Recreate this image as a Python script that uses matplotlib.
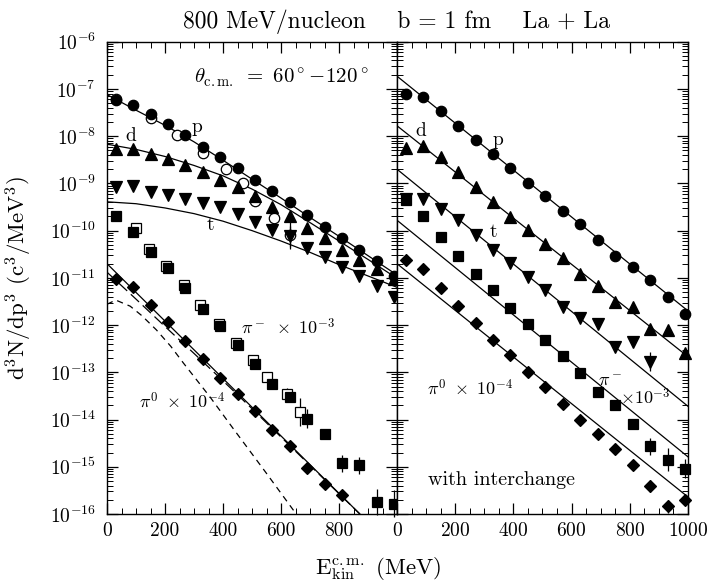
import numpy as np
import matplotlib
matplotlib.use("Agg")
import matplotlib.pyplot as plt
from matplotlib.ticker import LogLocator, MultipleLocator, NullFormatter

plt.rcParams['font.family'] = 'cmr10'
plt.rcParams['mathtext.fontset'] = 'cm'
plt.rcParams['axes.unicode_minus'] = False
plt.rcParams['axes.formatter.use_mathtext'] = True

# energies of the measured points (MeV)
E_pts = [30, 90, 150, 210, 270, 330, 390, 450, 510, 570, 630, 690, 750, 810, 870, 930, 990]

# ---- left panel: data (log10 of d3N/dp3) ----
p_left = [-7.23, -7.35, -7.53, -7.75, -7.98, -8.22, -8.44, -8.68, -8.93, -9.17, -9.40,
          -9.67, -9.93, -10.15, -10.41, -10.65, -10.96]
p_open_E = [30, 150, 240, 330, 410, 470, 510, 575, 630]
p_open = [-7.22, -7.62, -7.98, -8.35, -8.70, -8.99, -9.37, -9.73, -10.10]
p_open_err = [0, 0, 0, 0, 0, 0, 0, 0, 0.28]
d_left = [-8.28, -8.28, -8.38, -8.49, -8.61, -8.75, -8.92, -9.08, -9.26, -9.50, -9.70,
          -9.94, -10.16, -10.41, -10.62, -10.81, -11.03]
t_left = [-9.07, -9.06, -9.18, -9.25, -9.32, -9.41, -9.51, -9.64, -9.81, -9.98, -10.12,
          -10.37, -10.55, -10.78, -10.96, -11.18, -11.40]
t_left_err = [0] * 10 + [0.22] + [0] * 6
pim_left = [-9.69, -10.03, -10.45, -10.80, -11.22, -11.66, -12.02, -12.43, -12.82, -13.24,
            -13.53, -13.98, -14.30, -14.93, -14.97, -15.75, -15.78]
pim_left_err = [0] * 11 + [0.2, 0, 0.18, 0.18, 0.28, 0.28]
pim_open_E = [100, 145, 205, 265, 320, 385, 445, 505, 550, 620, 665]
pim_open = [-9.95, -10.38, -10.75, -11.15, -11.58, -11.97, -12.38, -12.73, -13.10, -13.45, -13.84]
pim_open_err = [0, 0, 0, 0, 0, 0, 0, 0, 0, 0.12, 0.3]
pi0_E_left = E_pts[:14]
pi0_left = [-11.02, -11.20, -11.58, -11.94, -12.33, -12.71, -13.11, -13.46, -13.81, -14.22,
            -14.57, -15.03, -15.37, -15.60]

# left panel: model curves
curve_E = [0, 100, 200, 300, 400, 500, 600, 700, 800, 900, 1000]
p_curve_l = [-7.12, -7.45, -7.77, -8.12, -8.51, -8.91, -9.31, -9.72, -10.12, -10.53, -10.94]
d_curve_l = [-8.17, -8.28, -8.43, -8.62, -8.84, -9.12, -9.45, -9.83, -10.22, -10.61, -11.01]
t_curve_l = [-9.39, -9.43, -9.52, -9.64, -9.80, -10.00, -10.22, -10.46, -10.72, -10.96, -11.20]
pi0_solid_E = [0, 872]
pi0_solid = [-10.70, -16.0]
pi0_dash1_E = [0, 100, 200, 300, 400, 500, 600, 700, 800, 872]
pi0_dash1 = [-10.88, -11.45, -12.03, -12.60, -13.18, -13.77, -14.37, -14.97, -15.57, -16.0]
pi0_dash2_E = [0, 30, 80, 120, 170, 220, 263, 355, 435, 550, 650]
pi0_dash2 = [-11.56, -11.47, -11.60, -11.80, -12.10, -12.45, -12.80, -13.52, -14.19, -15.14, -15.98]

# ---- right panel (with interchange) ----
p_right = [-7.11, -7.18, -7.47, -7.78, -8.08, -8.38, -8.68, -8.99, -9.26, -9.59, -9.86,
           -10.20, -10.54, -10.78, -11.05, -11.40, -11.77]
d_right = [-8.26, -8.21, -8.44, -8.75, -9.07, -9.39, -9.71, -9.99, -10.29, -10.57, -10.91,
           -11.18, -11.51, -11.61, -12.09, -12.11, -12.60]
t_E_right = E_pts[:15]
t_right = [-9.34, -9.32, -9.55, -9.78, -10.10, -10.41, -10.68, -10.98, -11.25, -11.61,
           -11.84, -11.97, -12.46, -12.36, -12.78]
t_right_err = [0] * 14 + [0.2]
pim_right = [-9.35, -9.70, -10.14, -10.53, -10.92, -11.26, -11.63, -11.97, -12.31, -12.66,
             -13.01, -13.41, -13.70, -14.09, -14.57, -14.85, -15.04]
pim_right_err = [0] * 14 + [0.18, 0.25, 0.2]
pi0_right = [-10.62, -10.82, -11.21, -11.60, -11.96, -12.32, -12.63, -12.99, -13.32, -13.67,
             -14.01, -14.30, -14.62, -14.97, -15.41, -15.84, -15.71]
pi0_right_err = [0] * 14 + [0.12, 0.13, 0]

line_E_right = [0, 1000]
p_line_r = [-6.73, -11.70]
d_line_r = [-7.78, -12.67]
t_line_r = [-8.70, -13.72]
pim_line_r = [-9.78, -14.79]
pi0_line_r = [-10.70, -15.64]


def pts(ax, E, logv, marker, size, err=None, open_=False, z=3):
    """Plots one set of data points (log10 values) with optional vertical error bars."""
    y = 10.0 ** np.array(logv)
    if err is not None:
        err = np.array(err)
        m = err > 0
        ax.vlines(np.array(E)[m], y[m] * 10.0 ** (-err[m]), y[m] * 10.0 ** err[m],
                  color='black', lw=0.9, zorder=z - 0.5, clip_on=False)
    ax.plot(E, y, ls='none', marker=marker, ms=size, mec='black', mew=0.9,
            mfc='white' if open_ else 'black', zorder=z, clip_on=False)


def curve(ax, E, logv, **kw):
    """Plots one model curve."""
    ax.plot(E, 10.0 ** np.array(logv), color='black', lw=0.9, **kw)


def style(ax, left_labels):
    """Sets log axis, limits and inward ticks on all sides."""
    ax.set_yscale('log')
    ax.set_ylim(1e-16, 1e-6)
    ax.set_xlim(0, 1000)
    ax.xaxis.set_major_locator(MultipleLocator(200))
    ax.xaxis.set_minor_locator(MultipleLocator(50))
    ax.yaxis.set_major_locator(LogLocator(base=10, numticks=20))
    ax.yaxis.set_minor_locator(LogLocator(base=10, subs=np.arange(2, 10), numticks=20))
    ax.yaxis.set_minor_formatter(NullFormatter())
    ax.tick_params(which='both', direction='in', top=True, right=True, labelsize=14)
    ax.tick_params(which='major', length=8, width=0.9)
    ax.tick_params(which='minor', length=4, width=0.7)
    ax.tick_params(axis='x', pad=6)
    ax.tick_params(axis='y', pad=8, labelleft=left_labels)
    for s in ax.spines.values():
        s.set_linewidth(1.0)


fig = plt.figure(figsize=(7.12, 5.84), dpi=100)
ax1 = fig.add_axes([107 / 712, 70 / 584, 290 / 712, 472.3 / 584])
ax2 = fig.add_axes([397 / 712, 70 / 584, 291 / 712, 472.3 / 584], sharey=ax1)

# left panel
curve(ax1, curve_E, p_curve_l)
curve(ax1, curve_E, d_curve_l)
curve(ax1, curve_E, t_curve_l)
curve(ax1, pi0_solid_E, pi0_solid)
curve(ax1, pi0_dash1_E, pi0_dash1, ls=(0, (9, 4)))
curve(ax1, pi0_dash2_E, pi0_dash2, ls=(0, (5, 4)))
pts(ax1, p_open_E, p_open, 'o', 7.5, p_open_err, open_=True, z=2)
pts(ax1, pim_open_E, pim_open, 's', 7, pim_open_err, open_=True, z=2)
pts(ax1, E_pts, p_left, 'o', 7.5)
pts(ax1, E_pts, d_left, '^', 8)
pts(ax1, E_pts, t_left, 'v', 8, t_left_err)
pts(ax1, E_pts, pim_left, 's', 7, pim_left_err)
pts(ax1, pi0_E_left, pi0_left, 'D', 6.5)

# right panel
for vals in [p_line_r, d_line_r, t_line_r, pim_line_r, pi0_line_r]:
    curve(ax2, line_E_right, vals)
pts(ax2, E_pts, p_right, 'o', 7.5)
pts(ax2, E_pts, d_right, '^', 8)
pts(ax2, t_E_right, t_right, 'v', 8, t_right_err)
pts(ax2, E_pts, pim_right, 's', 7, pim_right_err)
pts(ax2, E_pts, pi0_right, 'D', 6.5, pi0_right_err)

style(ax1, True)
style(ax2, False)
ax1.set_xticks([0, 200, 400, 600, 800, 1000])
ax1.set_xticklabels(['0', '200', '400', '600', '800', ''])

# annotations
kw = dict(fontsize=14, ha='center', va='center')
ax1.text(0.60, 0.923, r'$\theta_{\mathrm{c.m.}}\ =\ 60^\circ\!-\!120^\circ$', transform=ax1.transAxes,
         fontsize=15, ha='center', va='center')
ax1.text(0.31, 0.82, 'p', transform=ax1.transAxes, **kw)
ax1.text(0.083, 0.80, 'd', transform=ax1.transAxes, **kw)
ax1.text(0.355, 0.612, 't', transform=ax1.transAxes, **kw)
ax1.text(0.624, 0.397, r'$\pi^-\ \times\ 10^{-3}$', transform=ax1.transAxes, fontsize=13,
         ha='center', va='center')
ax1.text(0.258, 0.241, r'$\pi^0\ \times\ 10^{-4}$', transform=ax1.transAxes, fontsize=13,
         ha='center', va='center')
ax2.text(0.081, 0.81, 'd', transform=ax2.transAxes, **kw)
ax2.text(0.345, 0.792, 'p', transform=ax2.transAxes, **kw)
ax2.text(0.33, 0.598, 't', transform=ax2.transAxes, **kw)
ax2.text(0.25, 0.269, r'$\pi^0\ \times\ 10^{-4}$', transform=ax2.transAxes, fontsize=13,
         ha='center', va='center')
ax2.text(0.733, 0.282, r'$\pi^-$', transform=ax2.transAxes, fontsize=13,
         ha='center', va='center')
ax2.text(0.768, 0.248, r'$\times 10^{-3}$', transform=ax2.transAxes, fontsize=13,
         ha='left', va='center')
ax2.text(0.107, 0.072, 'with interchange', transform=ax2.transAxes,
         fontsize=14.5, ha='left', va='center')

fig.text(397 / 712, 0.963, '800 MeV/nucleon    b = 1 fm    La + La',
         fontsize=17, ha='center', va='center')
fig.text(0.026, 0.524, r'd$^3$N/dp$^3$ (c$^3$/MeV$^3$)', rotation=90,
         fontsize=16.5, ha='center', va='center')
fig.text(378 / 712, 1 - 569 / 584, r'E$_{\mathrm{kin}}^{\mathrm{c.m.}}$ (MeV)',
         fontsize=16.5, ha='center', va='center')

fig.savefig('out.png', dpi=100)
